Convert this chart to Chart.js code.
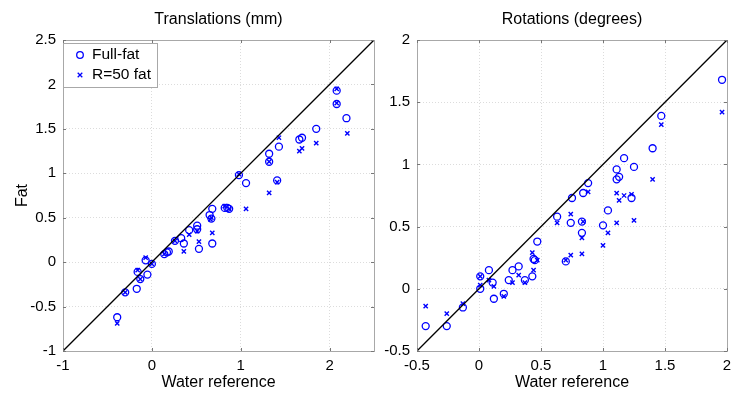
<!DOCTYPE html>
<html>
<head>
<meta charset="utf-8">
<script src="https://cdn.jsdelivr.net/npm/chart.js@4.4.1/dist/chart.umd.min.js"></script>
<style>
  body { margin: 0; background: #fff; }
  #wrap { position: relative; width: 739px; height: 393px; }
  #leftChart { position: absolute; left: 0; top: 0; }
  #rightChart { position: absolute; left: 380px; top: 0; }
</style>
</head>
<body>
<div id="wrap">
  <canvas id="leftChart" width="380" height="393"></canvas>
  <canvas id="rightChart" width="359" height="393"></canvas>
</div>
<script>
// Translations (mm)
const transFullX = [-0.39, -0.30, -0.17, -0.16, -0.13, -0.07, -0.05, 0.00, 0.14, 0.17, 0.19, 0.26, 0.33, 0.36, 0.42, 0.51, 0.51, 0.53, 0.65, 0.67, 0.68, 0.68, 0.82, 0.85, 0.87, 0.98, 1.06, 1.32, 1.32, 1.41, 1.43, 1.66, 1.69, 1.85, 2.08, 2.08, 2.19];
const transFullY = [-0.62, -0.34, -0.30, -0.11, -0.19, 0.02, -0.14, -0.02, 0.09, 0.11, 0.12, 0.24, 0.27, 0.21, 0.36, 0.37, 0.41, 0.15, 0.53, 0.49, 0.60, 0.21, 0.61, 0.61, 0.60, 0.98, 0.89, 1.22, 1.13, 0.92, 1.30, 1.38, 1.40, 1.50, 1.93, 1.78, 1.62];
const transR50X = [-0.39, -0.30, -0.16, -0.13, -0.07, 0.00, 0.14, 0.26, 0.36, 0.42, 0.51, 0.53, 0.66, 0.67, 0.68, 0.82, 0.87, 0.98, 1.06, 1.32, 1.32, 1.41, 1.43, 1.66, 1.69, 1.85, 2.08, 2.08, 2.20];
const transR50Y = [-0.69, -0.34, -0.09, -0.19, 0.05, -0.02, 0.09, 0.24, 0.12, 0.31, 0.35, 0.23, 0.48, 0.50, 0.33, 0.63, 0.60, 0.99, 0.60, 1.13, 0.78, 0.90, 1.40, 1.25, 1.28, 1.34, 1.95, 1.79, 1.45];

// Rotations (degrees)
const rotFullX = [-0.43, -0.26, -0.13, 0.01, 0.01, 0.08, 0.11, 0.12, 0.20, 0.24, 0.27, 0.32, 0.37, 0.43, 0.44, 0.45, 0.47, 0.63, 0.70, 0.74, 0.75, 0.83, 0.83, 0.84, 0.88, 1.00, 1.04, 1.11, 1.11, 1.13, 1.17, 1.23, 1.25, 1.40, 1.47, 1.96];
const rotFullY = [-0.30, -0.30, -0.15, 0.10, 0.00, 0.15, 0.05, -0.08, -0.04, 0.07, 0.15, 0.18, 0.07, 0.10, 0.24, 0.23, 0.38, 0.58, 0.22, 0.53, 0.73, 0.54, 0.45, 0.77, 0.85, 0.51, 0.63, 0.96, 0.88, 0.90, 1.05, 0.73, 0.98, 1.13, 1.39, 1.68];
const rotR50X = [-0.43, -0.26, -0.13, 0.01, 0.01, 0.08, 0.12, 0.20, 0.27, 0.32, 0.37, 0.43, 0.44, 0.47, 0.63, 0.70, 0.74, 0.74, 0.83, 0.83, 0.84, 0.88, 1.00, 1.04, 1.11, 1.11, 1.13, 1.17, 1.23, 1.25, 1.40, 1.47, 1.96];
const rotR50Y = [-0.14, -0.20, -0.12, 0.10, 0.03, 0.07, 0.02, -0.06, 0.05, 0.11, 0.05, 0.29, 0.15, 0.23, 0.53, 0.23, 0.60, 0.27, 0.41, 0.28, 0.54, 0.78, 0.35, 0.45, 0.77, 0.53, 0.71, 0.75, 0.76, 0.55, 0.88, 1.32, 1.42];

// axis ranges
const transXRange = [-1, 2.5], transYRange = [-1, 2.5];
const rotXRange = [-0.5, 2], rotYRange = [-0.5, 2];

const seriesNames = ["Full-fat", "R=50 fat"];
const FONT = "'Liberation Sans', Arial, Helvetica, sans-serif";
const BLUE = "#0000ff";

function toPoints(xs, ys) {
    return xs.map((x, i) => ({ x: x, y: ys[i] }));
}

// title, box frame, inside tick marks and optional legend
function decorPlugin(title, showLegend) {
    return {
        id: "decor",
        afterDraw(chart) {
            const ctx = chart.ctx;
            const a = chart.chartArea;
            ctx.save();
            ctx.strokeStyle = "#a8a8a8";
            ctx.lineWidth = 1;
            ctx.strokeRect(Math.round(a.left) + 0.5, Math.round(a.top) + 0.5,
                Math.round(a.right - a.left), Math.round(a.bottom - a.top));
            ctx.strokeStyle = "#777";
            ctx.beginPath();
            chart.scales.x.ticks.forEach(t => {
                const px = Math.round(chart.scales.x.getPixelForValue(t.value)) + 0.5;
                ctx.moveTo(px, a.bottom); ctx.lineTo(px, a.bottom - 3);
                ctx.moveTo(px, a.top); ctx.lineTo(px, a.top + 3);
            });
            chart.scales.y.ticks.forEach(t => {
                const py = Math.round(chart.scales.y.getPixelForValue(t.value)) + 0.5;
                ctx.moveTo(a.left, py); ctx.lineTo(a.left + 3, py);
                ctx.moveTo(a.right, py); ctx.lineTo(a.right - 3, py);
            });
            ctx.stroke();

            ctx.fillStyle = "#000";
            ctx.font = "16px " + FONT;
            ctx.textAlign = "center";
            ctx.textBaseline = "middle";
            ctx.fillText(title, (a.left + a.right) / 2, 20);

            if (showLegend) {
                const bx = a.left, by = a.top + 3, bw = 94, bh = 44;
                ctx.fillStyle = "#fff";
                ctx.fillRect(bx, by, bw, bh);
                ctx.strokeStyle = "#a8a8a8";
                ctx.strokeRect(bx + 0.5, by + 0.5, bw, bh);
                ctx.strokeStyle = BLUE;
                ctx.lineWidth = 1.3;
                ctx.beginPath();
                ctx.arc(bx + 17, by + 12, 3.3, 0, Math.PI * 2);
                ctx.stroke();
                ctx.beginPath();
                const cx = bx + 17, cy = by + 32, r = 2.3;
                ctx.moveTo(cx - r, cy - r); ctx.lineTo(cx + r, cy + r);
                ctx.moveTo(cx - r, cy + r); ctx.lineTo(cx + r, cy - r);
                ctx.stroke();
                ctx.fillStyle = "#000";
                ctx.textAlign = "left";
                ctx.font = "15.5px " + FONT;
                ctx.fillText(seriesNames[0], bx + 29, by + 12);
                ctx.fillText(seriesNames[1], bx + 29, by + 32);
            }
            ctx.restore();
        }
    };
}

function makeChart(canvasId, opts) {
    const ctx = document.getElementById(canvasId).getContext("2d");
    return new Chart(ctx, {
        type: "scatter",
        data: {
            datasets: [
                {
                    label: "identity",
                    data: [{ x: opts.xRange[0], y: opts.xRange[0] }, { x: opts.xRange[1], y: opts.xRange[1] }],
                    showLine: true,
                    borderColor: "#000",
                    borderWidth: 1.3,
                    pointRadius: 0
                },
                {
                    label: seriesNames[0],
                    data: toPoints(opts.fullX, opts.fullY),
                    pointStyle: "circle",
                    pointRadius: 3.5,
                    borderColor: BLUE,
                    backgroundColor: "rgba(0,0,0,0)",
                    borderWidth: 1.3
                },
                {
                    label: seriesNames[1],
                    data: toPoints(opts.r50X, opts.r50Y),
                    pointStyle: "crossRot",
                    pointRadius: 3,
                    borderColor: BLUE,
                    borderWidth: 1.4
                }
            ]
        },
        options: {
            responsive: false,
            animation: false,
            layout: { padding: { top: 40, right: opts.padRight, bottom: 0, left: 0 } },
            plugins: { legend: { display: false }, tooltip: { enabled: false }, title: { display: false } },
            scales: {
                x: {
                    type: "linear",
                    min: opts.xRange[0],
                    max: opts.xRange[1],
                    afterFit: s => { s.height = 42; },
                    ticks: { stepSize: opts.xStep, includeBounds: false, padding: 6, color: "#000",
                        font: { family: FONT, size: 15 }, callback: v => String(v) },
                    grid: { color: "#dcdcdc", drawTicks: false },
                    border: { display: false, dash: [1, 2] },
                    title: { display: true, text: "Water reference", color: "#000", font: { family: FONT, size: 16 }, padding: { top: 0, bottom: 1 } }
                },
                y: {
                    type: "linear",
                    min: opts.yRange[0],
                    max: opts.yRange[1],
                    afterFit: s => { s.width = opts.yWidth; },
                    ticks: { stepSize: 0.5, padding: 7, color: "#000",
                        font: { family: FONT, size: 15 }, callback: v => String(v) },
                    grid: { color: "#dcdcdc", drawTicks: false },
                    border: { display: false, dash: [1, 2] },
                    title: { display: opts.yTitle !== "", text: opts.yTitle, color: "#000", font: { family: FONT, size: 16 }, padding: { top: 13, bottom: 0 } }
                }
            }
        },
        plugins: [decorPlugin(opts.title, opts.legend)]
    });
}

makeChart("leftChart", {
    title: "Translations (mm)",
    legend: true,
    fullX: transFullX, fullY: transFullY, r50X: transR50X, r50Y: transR50Y,
    xRange: transXRange, yRange: transYRange, xStep: 1,
    yWidth: 63, padRight: 6, yTitle: "Fat"
});

makeChart("rightChart", {
    title: "Rotations (degrees)",
    legend: false,
    fullX: rotFullX, fullY: rotFullY, r50X: rotR50X, r50Y: rotR50Y,
    xRange: rotXRange, yRange: rotYRange, xStep: 0.5,
    yWidth: 37, padRight: 12, yTitle: ""
});
</script>
</body>
</html>
